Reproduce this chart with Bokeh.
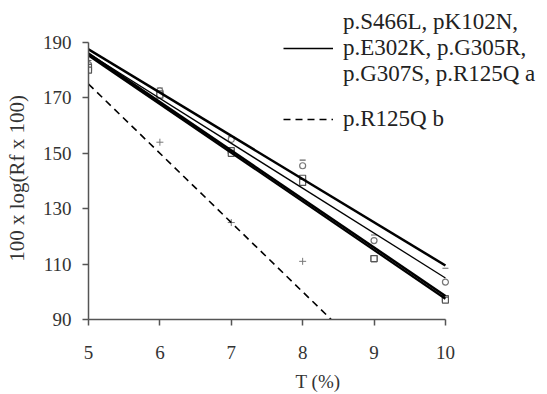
from bokeh.plotting import figure
from bokeh.models import Range1d, FixedTicker, Legend, LegendItem
from bokeh.embed import file_html
from bokeh.resources import INLINE

# data
T = [5, 6, 7, 8, 9, 10]
pts_a1 = [183.5, 173.5, 156, 147.5, 120.5, 108.5]
pts_a2 = [182, 172.5, 155, 145.5, 118.5, 103.5]
pts_a3 = [181, 171.5, 151, 141, 112, 97.5]
pts_a4 = [180, 171, 150, 139.5, 112, 97]
T_b = [6, 7, 8]
pts_b = [154, 125, 111]

fit_x = [5, 10]
fit_a1 = [187.5, 109.5]
fit_a2 = [186, 105]
fit_a3 = [186, 98.5]
fit_a4 = [185.3, 97.5]
fit_b_x = [5, 8.4]
fit_b = [175, 90]

x_ticks = [5, 6, 7, 8, 9, 10]
y_ticks = [90, 110, 130, 150, 170, 190]

label_a = "p.S466L, pK102N,\np.E302K, p.G305R,\np.G307S, p.R125Q a"
label_b = "p.R125Q b"
x_title = "T (%)"
y_title = "100 x log(Rf x 100)"

FONT = "Liberation Serif"

p = figure(width=547, height=394, output_backend="svg", toolbar_location=None,
           x_range=Range1d(5, 11.43), y_range=Range1d(90, 205.16),
           min_border_left=88, min_border_right=0, min_border_top=0, min_border_bottom=75)
p.outline_line_color = None
p.xgrid.visible = False
p.ygrid.visible = False
p.background_fill_color = "white"

for ax in (p.xaxis[0], p.yaxis[0]):
    ax.axis_line_color = "#555555"
    ax.major_tick_line_color = "#555555"
    ax.axis_line_width = 1.5
    ax.major_tick_line_width = 1.5
    ax.major_tick_out = 6
    ax.major_tick_in = 0
    ax.minor_tick_line_color = None
    ax.major_label_text_font = FONT
    ax.major_label_text_font_size = "19px"
    ax.major_label_text_color = "#333333"
    ax.axis_label_text_font = FONT
    ax.axis_label_text_font_style = "normal"
    ax.axis_label_text_color = "#333333"

p.xaxis.axis_label_text_font_size = "19px"
p.yaxis.axis_label_text_font_size = "21px"
p.xaxis.ticker = FixedTicker(ticks=x_ticks)
p.yaxis.ticker = FixedTicker(ticks=y_ticks)
p.xaxis.bounds = (5, 10)
p.yaxis.bounds = (90, 190)
p.xaxis.major_label_standoff = 20
p.yaxis.major_label_standoff = 11
p.xaxis.axis_label = x_title
p.xaxis.axis_label_standoff = 9
p.yaxis.axis_label = y_title + "\u00a0" * 7
p.yaxis.axis_label_standoff = 11

# points
p.scatter(T, pts_a1, marker="dash", size=6, line_color="#666666", line_width=1.2)
p.scatter(T, pts_a2, marker="circle", size=6, fill_color="white", line_color="#777777", line_width=1.2)
p.scatter(T, pts_a3, marker="square", size=6, fill_color="white", line_color="#555555", line_width=1.2)
p.scatter(T, pts_a4, marker="square", size=6, fill_color="white", line_color="#555555", line_width=1.2)
p.scatter(T_b, pts_b, marker="cross", size=7, line_color="#777777", line_width=1)

# fit lines
p.line(fit_x, fit_a1, line_color="black", line_width=2.5)
la = p.line(fit_x, fit_a2, line_color="black", line_width=1.3)
p.line(fit_x, fit_a3, line_color="black", line_width=2.5)
p.line(fit_x, fit_a4, line_color="black", line_width=2.2)
lb = p.line(fit_b_x, fit_b, line_color="black", line_width=1.6, line_dash="7 5")

legend = Legend(items=[LegendItem(label=label_a, renderers=[la]),
                       LegendItem(label=label_b, renderers=[lb])],
                location=(195, 187), padding=0, margin=0, spacing=19,
                glyph_width=50, label_standoff=10,
                border_line_color=None, background_fill_alpha=0,
                label_text_font=FONT, label_text_font_size="23px",
                label_text_color="#222222")
p.add_layout(legend)

open("out.html", "w").write(file_html(p, INLINE))
